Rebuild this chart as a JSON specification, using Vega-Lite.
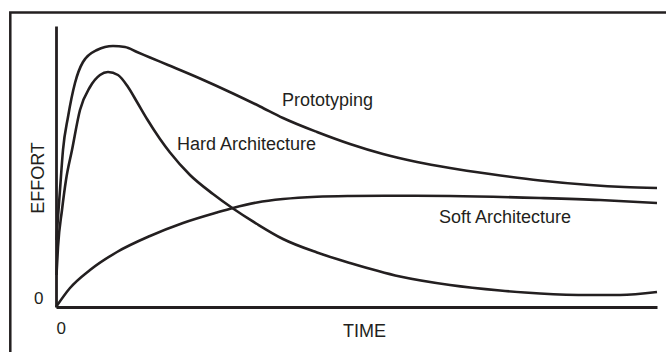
{
  "$schema": "https://vega.github.io/schema/vega-lite/v6.json",
  "width": 601,
  "height": 281,
  "autosize": {"type": "none"},
  "padding": {"left": 56, "top": 26, "right": 9, "bottom": 45},
  "background": "white",
  "config": {
    "view": {"stroke": null},
    "font": "Liberation Sans",
    "text": {"font": "Liberation Sans"}
  },
  "datasets": {
    "curves": [
      {"s": "Prototyping", "t": 0.5, "e": 67},
      {"s": "Prototyping", "t": 2, "e": 90},
      {"s": "Prototyping", "t": 4, "e": 117},
      {"s": "Prototyping", "t": 7, "e": 157},
      {"s": "Prototyping", "t": 12, "e": 190},
      {"s": "Prototyping", "t": 19, "e": 224},
      {"s": "Prototyping", "t": 27, "e": 245},
      {"s": "Prototyping", "t": 41, "e": 257},
      {"s": "Prototyping", "t": 57, "e": 261},
      {"s": "Prototyping", "t": 69, "e": 260},
      {"s": "Prototyping", "t": 81, "e": 255},
      {"s": "Prototyping", "t": 94, "e": 249.5},
      {"s": "Prototyping", "t": 112, "e": 242},
      {"s": "Prototyping", "t": 144, "e": 228.5},
      {"s": "Prototyping", "t": 177, "e": 213.5},
      {"s": "Prototyping", "t": 204, "e": 200.5},
      {"s": "Prototyping", "t": 227, "e": 189},
      {"s": "Prototyping", "t": 261, "e": 175},
      {"s": "Prototyping", "t": 294, "e": 163},
      {"s": "Prototyping", "t": 327, "e": 153},
      {"s": "Prototyping", "t": 361, "e": 145},
      {"s": "Prototyping", "t": 394, "e": 139},
      {"s": "Prototyping", "t": 434, "e": 133},
      {"s": "Prototyping", "t": 484, "e": 126.5},
      {"s": "Prototyping", "t": 534, "e": 122},
      {"s": "Prototyping", "t": 568, "e": 120},
      {"s": "Prototyping", "t": 601, "e": 119},
      {"s": "Hard", "t": 0.5, "e": 32},
      {"s": "Hard", "t": 2, "e": 60},
      {"s": "Hard", "t": 6, "e": 97},
      {"s": "Hard", "t": 10, "e": 127},
      {"s": "Hard", "t": 16, "e": 157},
      {"s": "Hard", "t": 24, "e": 197},
      {"s": "Hard", "t": 34, "e": 220},
      {"s": "Hard", "t": 44, "e": 232},
      {"s": "Hard", "t": 52, "e": 235},
      {"s": "Hard", "t": 62, "e": 232},
      {"s": "Hard", "t": 72, "e": 220},
      {"s": "Hard", "t": 81, "e": 205},
      {"s": "Hard", "t": 91, "e": 188},
      {"s": "Hard", "t": 104, "e": 168},
      {"s": "Hard", "t": 114, "e": 154.5},
      {"s": "Hard", "t": 134, "e": 132},
      {"s": "Hard", "t": 157, "e": 113},
      {"s": "Hard", "t": 177, "e": 98.5},
      {"s": "Hard", "t": 201, "e": 83},
      {"s": "Hard", "t": 227, "e": 68},
      {"s": "Hard", "t": 261, "e": 54.5},
      {"s": "Hard", "t": 294, "e": 44},
      {"s": "Hard", "t": 344, "e": 30.5},
      {"s": "Hard", "t": 394, "e": 22},
      {"s": "Hard", "t": 444, "e": 16.5},
      {"s": "Hard", "t": 484, "e": 13.5},
      {"s": "Hard", "t": 534, "e": 12},
      {"s": "Hard", "t": 564, "e": 12},
      {"s": "Hard", "t": 601, "e": 15},
      {"s": "Soft", "t": 0, "e": 0},
      {"s": "Soft", "t": 14, "e": 19},
      {"s": "Soft", "t": 34, "e": 37},
      {"s": "Soft", "t": 61, "e": 55},
      {"s": "Soft", "t": 94, "e": 71},
      {"s": "Soft", "t": 127, "e": 84},
      {"s": "Soft", "t": 161, "e": 94.5},
      {"s": "Soft", "t": 177, "e": 99},
      {"s": "Soft", "t": 201, "e": 104.5},
      {"s": "Soft", "t": 227, "e": 108},
      {"s": "Soft", "t": 261, "e": 110.3},
      {"s": "Soft", "t": 294, "e": 111},
      {"s": "Soft", "t": 344, "e": 111.3},
      {"s": "Soft", "t": 394, "e": 111},
      {"s": "Soft", "t": 484, "e": 109},
      {"s": "Soft", "t": 544, "e": 107},
      {"s": "Soft", "t": 601, "e": 104}
    ],
    "labels": [
      {"label": "Prototyping", "t": 226, "e": 201.5},
      {"label": "Hard Architecture", "t": 121, "e": 157},
      {"label": "Soft Architecture", "t": 383, "e": 84}
    ],
    "frame": [
      {"t0": -45.7, "t1": 800, "e0": 294.5, "e1": -200}
    ]
  },
  "layer": [
    {
      "data": {"name": "frame"},
      "mark": {"type": "rect", "fill": null, "stroke": "#231f20", "strokeWidth": 2.5, "clip": false},
      "encoding": {
        "x": {"field": "t0", "type": "quantitative", "scale": {"domain": [0, 601], "nice": false, "zero": false}},
        "x2": {"field": "t1"},
        "y": {"field": "e0", "type": "quantitative", "scale": {"domain": [0, 281], "nice": false, "zero": false}},
        "y2": {"field": "e1"}
      }
    },
    {
      "data": {"name": "curves"},
      "mark": {"type": "line", "interpolate": "monotone", "color": "#231f20", "strokeWidth": 2.6},
      "encoding": {
        "x": {
          "field": "t", "type": "quantitative",
          "scale": {"domain": [0, 601], "nice": false, "zero": false},
          "axis": {
            "values": [0], "grid": false, "ticks": false,
            "domainColor": "#231f20", "domainWidth": 2.8,
            "labelFont": "Liberation Sans", "labelFontSize": 17, "labelColor": "#231f20",
            "labelAlign": "left", "labelPadding": 13, "labelBaseline": "top",
            "title": "TIME", "titleFont": "Liberation Sans", "titleFontSize": 18, "titleFontWeight": "normal",
            "titleColor": "#231f20", "titleX": 308, "titleY": 29, "titleBaseline": "alphabetic", "titleAlign": "center"
          }
        },
        "y": {
          "field": "e", "type": "quantitative",
          "scale": {"domain": [0, 281], "nice": false, "zero": false},
          "axis": {
            "values": [0], "grid": false, "ticks": false,
            "domainColor": "#231f20", "domainWidth": 2.8,
            "labelFont": "Liberation Sans", "labelFontSize": 17, "labelColor": "#231f20",
            "labelPadding": 13, "labelBaseline": "bottom", "labelDy": -1,
            "title": "EFFORT", "titleFont": "Liberation Sans", "titleFontSize": 18, "titleFontWeight": "normal",
            "titleColor": "#231f20", "titleAngle": -90, "titleX": -13, "titleY": 151.5, "titleBaseline": "alphabetic", "titleAlign": "center"
          }
        },
        "detail": {"field": "s", "type": "nominal"}
      }
    },
    {
      "data": {"name": "labels"},
      "mark": {"type": "text", "align": "left", "baseline": "alphabetic", "font": "Liberation Sans", "fontSize": 18, "color": "#231f20"},
      "encoding": {
        "x": {"field": "t", "type": "quantitative"},
        "y": {"field": "e", "type": "quantitative"},
        "text": {"field": "label", "type": "nominal"}
      }
    }
  ]
}
